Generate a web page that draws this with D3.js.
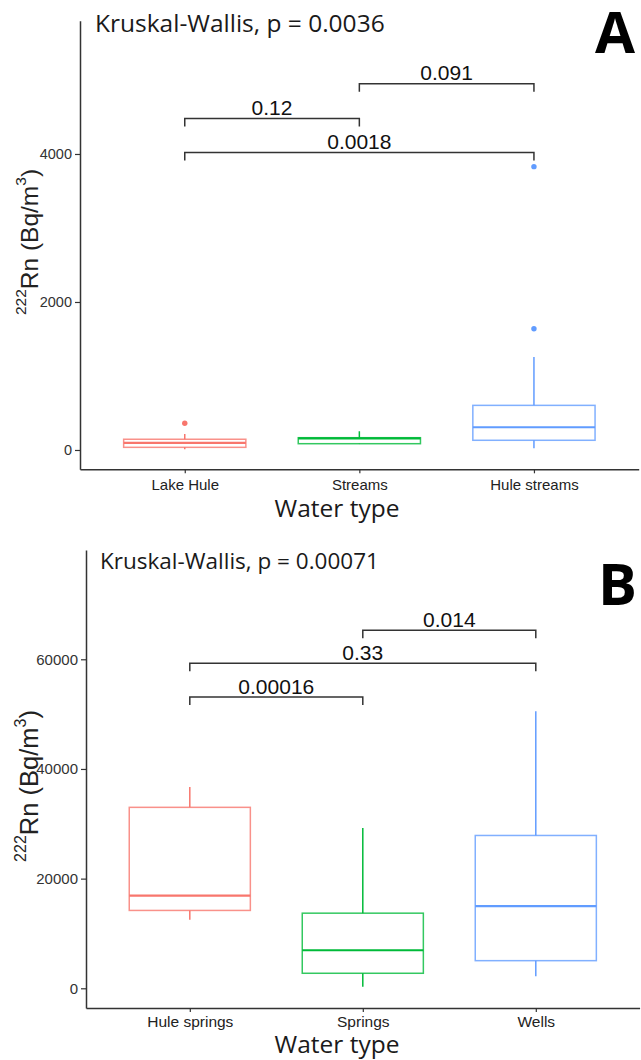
<!DOCTYPE html>
<html>
<head>
<meta charset="utf-8">
<script src="https://cdn.jsdelivr.net/npm/d3@7"></script>
<style>
  body { margin: 0; background: #fff; }
  svg { display: block; }
</style>
</head>
<body>
<div id="chart"></div>
<script>
// Panel A: surface waters
var catsA = ["Lake Hule", "Streams", "Hule streams"];
var q1A = [36, 85, 131];
var medA = [95, 158, 307];
var q3A = [145, 166, 603];
var loA = [10, 80, 23];
var hiA = [216, 253, 1257];
var outA = [[361], [], [1639, 3829]];
var ticksA = [0, 2000, 4000];
var pairsA = [[1, 2], [0, 1], [0, 2]];
var pLabelsA = ["0.091", "0.12", "0.0018"];
var pLevelA = [4950, 4480, 4020];
var kwA = "Kruskal-Wallis, p = 0.0036";

// Panel B: groundwater
var catsB = ["Hule springs", "Springs", "Wells"];
var q1B = [14200, 2740, 5040];
var medB = [16900, 6940, 14980];
var q3B = [33000, 13700, 27870];
var loB = [12500, 290, 2190];
var hiB = [36700, 29220, 50520];
var outB = [[], [], []];
var ticksB = [0, 20000, 40000, 60000];
var pairsB = [[1, 2], [0, 2], [0, 1]];
var pLabelsB = ["0.014", "0.33", "0.00016"];
var pLevelB = [65300, 59300, 53100];
var kwB = "Kruskal-Wallis, p = 0.00071";

var colors = ["#F8766D", "#00BA38", "#619CFF"];
var sans = "'Liberation Sans', Arial, sans-serif";
var ui = "'Open Sans', 'Noto Sans', sans-serif";

var svg = d3.select("#chart").append("svg")
  .attr("width", 641)
  .attr("height", 1060);

function drawPanel(p) {
  var g = svg.append("g");

  var x = d3.scalePoint()
    .domain(p.cats)
    .range([p.left, p.right])
    .padding(0.6);

  var y = d3.scaleLinear()
    .domain(p.domain)
    .range([p.bottom, p.top]);

  var boxW = x.step() * 0.7;

  // axes
  var yAxis = g.append("g")
    .attr("transform", "translate(" + p.left + ",0)")
    .call(d3.axisLeft(y).tickValues(p.ticks).tickFormat(d3.format("d")).tickSize(5).tickSizeOuter(0).tickPadding(3));
  var xAxis = g.append("g")
    .attr("transform", "translate(0," + p.bottom + ")")
    .call(d3.axisBottom(x).tickSize(4).tickSizeOuter(0).tickPadding(p.catPad));

  [yAxis, xAxis].forEach(function(a) {
    a.select(".domain").attr("stroke", "#333").attr("stroke-width", 1.5);
    a.selectAll(".tick line").attr("stroke", "#333").attr("stroke-width", 1.2);
  });
  yAxis.selectAll(".tick text")
    .style("font-family", sans).style("font-size", p.tickSize + "px").attr("fill", "#333");
  xAxis.selectAll(".tick text")
    .style("font-family", sans).style("font-size", p.catSize + "px").attr("fill", "#222");

  // boxes
  var box = g.selectAll(".box")
    .data(p.cats)
    .enter().append("g")
    .attr("class", "box");

  box.append("line")
    .attr("x1", function(d) { return x(d); })
    .attr("x2", function(d) { return x(d); })
    .attr("y1", function(d, i) { return y(p.hi[i]); })
    .attr("y2", function(d, i) { return y(p.q3[i]); })
    .attr("stroke", function(d, i) { return colors[i]; })
    .attr("stroke-width", 1.5);

  box.append("line")
    .attr("x1", function(d) { return x(d); })
    .attr("x2", function(d) { return x(d); })
    .attr("y1", function(d, i) { return y(p.q1[i]); })
    .attr("y2", function(d, i) { return y(p.lo[i]); })
    .attr("stroke", function(d, i) { return colors[i]; })
    .attr("stroke-width", 1.5);

  box.append("rect")
    .attr("x", function(d) { return x(d) - boxW / 2; })
    .attr("width", boxW)
    .attr("y", function(d, i) { return y(p.q3[i]); })
    .attr("height", function(d, i) { return y(p.q1[i]) - y(p.q3[i]); })
    .attr("fill", "none")
    .attr("stroke", function(d, i) { return colors[i]; })
    .attr("stroke-opacity", 0.8)
    .attr("stroke-width", 1.5);

  box.append("line")
    .attr("x1", function(d) { return x(d) - boxW / 2; })
    .attr("x2", function(d) { return x(d) + boxW / 2; })
    .attr("y1", function(d, i) { return y(p.med[i]); })
    .attr("y2", function(d, i) { return y(p.med[i]); })
    .attr("stroke", function(d, i) { return colors[i]; })
    .attr("stroke-width", 2.2);

  box.each(function(d, i) {
    d3.select(this).selectAll("circle")
      .data(p.out[i])
      .enter().append("circle")
      .attr("cx", x(d))
      .attr("cy", function(v) { return y(v); })
      .attr("r", 2.7)
      .attr("fill", colors[i]);
  });

  // comparison brackets
  var br = g.selectAll(".bracket")
    .data(p.pairs)
    .enter().append("g")
    .attr("class", "bracket");

  br.append("path")
    .attr("d", function(d, i) {
      var x1 = x(p.cats[d[0]]), x2 = x(p.cats[d[1]]), yy = y(p.levels[i]);
      return "M" + x1 + "," + (yy + 8) + "V" + yy + "H" + x2 + "V" + (yy + 8);
    })
    .attr("fill", "none")
    .attr("stroke", "#333")
    .attr("stroke-width", 1.5);

  br.append("text")
    .attr("x", function(d) { return (x(p.cats[d[0]]) + x(p.cats[d[1]])) / 2; })
    .attr("y", function(d, i) { return y(p.levels[i]) - 3.5; })
    .attr("text-anchor", "middle")
    .style("font-family", sans)
    .style("font-size", "21px")
    .attr("fill", "#111")
    .text(function(d, i) { return p.labels[i]; });

  // titles
  g.append("text")
    .attr("x", p.kwX)
    .attr("y", p.kwY)
    .style("font-family", ui)
    .style("font-size", p.kwSize + "px")
    .attr("fill", "#1a1a1a")
    .text(p.kw);

  g.append("text")
    .attr("x", 337)
    .attr("y", p.xTitleY)
    .attr("text-anchor", "middle")
    .style("font-family", ui)
    .style("font-size", "24.5px")
    .attr("fill", "#1a1a1a")
    .text("Water type");

  var yt = g.append("text")
    .attr("transform", "translate(38," + p.yTitleY + ") rotate(-90)")
    .attr("text-anchor", "middle")
    .style("font-family", sans)
    .style("font-size", p.yTitleSize + "px")
    .attr("fill", "#222");
  yt.append("tspan").attr("dy", -12).style("font-size", p.supSize + "px").text("222");
  yt.append("tspan").attr("dy", 12).text("Rn (Bq/m");
  yt.append("tspan").attr("dy", -12).style("font-size", p.supSize + "px").text("3");
  yt.append("tspan").attr("dy", 12).text(")");

  g.append("text")
    .attr("x", p.letterX)
    .attr("y", p.letterY)
    .style("font-family", ui)
    .style("font-weight", "bold")
    .style("font-size", "58px")
    .attr("fill", "#000")
    .text(p.letter);
}

drawPanel({
  cats: catsA, q1: q1A, med: medA, q3: q3A, lo: loA, hi: hiA, out: outA,
  ticks: ticksA, pairs: pairsA, labels: pLabelsA, levels: pLevelA, kw: kwA,
  left: 80, right: 638.7, top: 20.7, bottom: 469.3, domain: [-261, 5801],
  tickSize: 14.5, catSize: 15, catPad: 6, kwX: 95, kwY: 32, kwSize: 24.5, xTitleY: 517,
  yTitleY: 242, yTitleSize: 24.5, supSize: 15.5, letter: "A", letterX: 595, letterY: 53
});

drawPanel({
  cats: catsB, q1: q1B, med: medB, q3: q3B, lo: loB, hi: hiB, out: outB,
  ticks: ticksB, pairs: pairsB, labels: pLabelsB, levels: pLevelB, kw: kwB,
  left: 86, right: 639.6, top: 550, bottom: 1008, domain: [-3593, 79930],
  tickSize: 15, catSize: 15.5, catPad: 4, kwX: 100, kwY: 569, kwSize: 22.5, xTitleY: 1053,
  yTitleY: 786, yTitleSize: 25.5, supSize: 16, letter: "B", letterX: 598, letterY: 605
});
</script>
</body>
</html>
